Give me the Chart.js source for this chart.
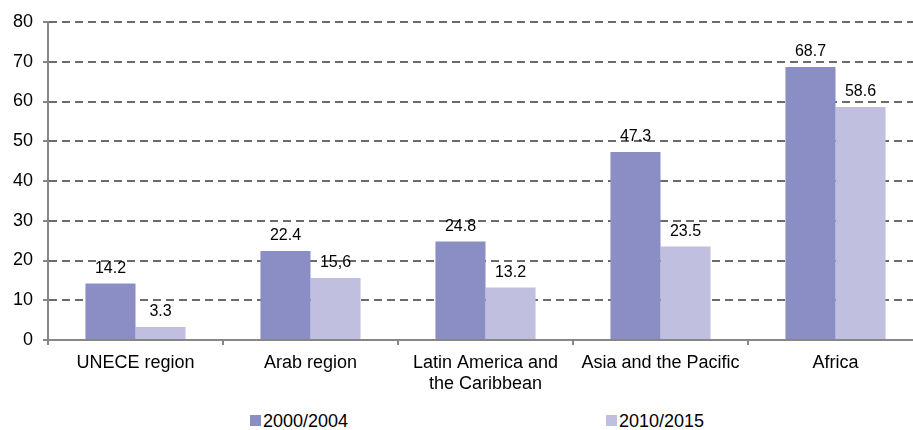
<!DOCTYPE html>
<html>
<head>
<meta charset="utf-8">
<script src="https://cdn.jsdelivr.net/npm/chart.js@4/dist/chart.umd.min.js"></script>
<style>
  html, body { margin: 0; padding: 0; background: #fff; overflow: hidden; }
  #wrap { position: relative; width: 913px; height: 430px; }
  #chart { position: absolute; left: 0; top: 0; }
  .legend { position: absolute; top: 410px; font: 18px 'Liberation Sans', Arial, sans-serif; color: #000; white-space: nowrap; line-height: 22px; }
  .legend i { display: inline-block; width: 11px; height: 11px; margin-right: 2px; vertical-align: 1px; }
</style>
</head>
<body>
<div id="wrap">
  <canvas id="chart" width="925" height="392"></canvas>
  <div class="legend" style="left:250px"><i style="background:#8B8EC4"></i>2000/2004</div>
  <div class="legend" style="left:606px"><i style="background:#C0BFE0"></i>2010/2015</div>
</div>
<script>
// ─── Data ──────────────────────────────────────────────────
const regions = ['UNECE region', 'Arab region', ['Latin America and', 'the Caribbean'], 'Asia and the Pacific', 'Africa'];
const series2000 = [14.2, 22.4, 24.8, 47.3, 68.7];
const series2010 = [3.3, 15.6, 13.2, 23.5, 58.6];
const labels2000 = ['14.2', '22.4', '24.8', '47.3', '68.7'];
const labels2010 = ['3.3', '15,6', '13.2', '23.5', '58.6'];
const yTicks = [0, 10, 20, 30, 40, 50, 60, 70, 80];

const FONT = "'Liberation Sans', Arial, sans-serif";
const AXIS_GRAY = '#868686';
const GRID_GRAY = '#6b6b6b';

// value labels above each bar
const valueLabels = {
  id: 'valueLabels',
  afterDatasetsDraw(chart) {
    const ctx = chart.ctx;
    const texts = [labels2000, labels2010];
    ctx.save();
    ctx.font = '16px ' + FONT;
    ctx.fillStyle = '#000';
    ctx.textAlign = 'center';
    ctx.textBaseline = 'middle';
    chart.data.datasets.forEach((ds, di) => {
      chart.getDatasetMeta(di).data.forEach((bar, i) => {
        ctx.fillText(texts[di][i], bar.x, bar.y - 15);
      });
    });
    ctx.restore();
  }
};

new Chart(document.getElementById('chart'), {
  type: 'bar',
  data: {
    labels: regions,
    datasets: [
      { label: '2000/2004', data: series2000, backgroundColor: '#8B8EC4' },
      { label: '2010/2015', data: series2010, backgroundColor: '#C0BFE0' }
    ]
  },
  options: {
    responsive: false,
    animation: false,
    layout: { padding: { top: 22, right: 2, left: 0, bottom: 0 } },
    categoryPercentage: 0.572,
    barPercentage: 1,
    plugins: { legend: { display: false }, tooltip: { enabled: false } },
    scales: {
      x: {
        grid: { display: true, drawOnChartArea: false, drawTicks: true, tickLength: 5, color: AXIS_GRAY, lineWidth: 2 },
        border: { display: true, color: AXIS_GRAY, width: 2 },
        ticks: { color: '#000', font: { family: FONT, size: 18, lineHeight: 1.2 }, padding: 7, maxRotation: 0, autoSkip: false },
        afterFit: s => { s.height = 52; }
      },
      y: {
        min: 0, max: 80,
        afterBuildTicks: s => { s.ticks = yTicks.map(v => ({ value: v })); },
        grid: { color: GRID_GRAY, lineWidth: 2, tickLength: 5, tickColor: AXIS_GRAY },
        border: { display: true, color: AXIS_GRAY, width: 2, dash: [8, 5] },
        ticks: { color: '#000', font: { family: FONT, size: 18 }, padding: 10 },
        afterFit: s => { s.width = 48; }
      }
    }
  },
  plugins: [valueLabels]
});
</script>
</body>
</html>
